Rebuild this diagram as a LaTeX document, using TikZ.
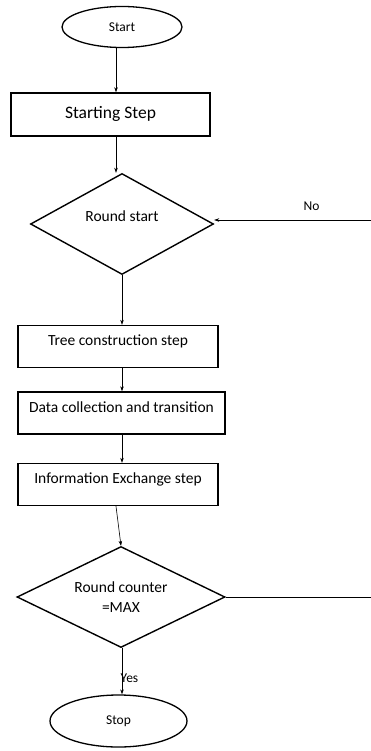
\documentclass[tikz,border=0pt]{standalone}
\usepackage{fontspec}
\setmainfont{Carlito}
\usetikzlibrary{arrows.meta}
\usetikzlibrary{shapes.geometric}

\begin{document}
\begin{tikzpicture}[x=1pt,y=-1pt,
  every node/.style={font=\fontsize{15.5}{20}\selectfont},
  term/.style={draw,ellipse,line width=1.3pt,inner sep=0pt,font=\fontsize{13.5}{16}\selectfont},
  stepbox/.style={draw,rectangle,line width=1.4pt,inner xsep=0pt,inner ysep=7pt,
    text height=13pt,text depth=15pt},
  test/.style={draw,diamond,aspect=2,line width=1.4pt,inner sep=0pt,align=center},
  arr/.style={-{Stealth[length=5pt,width=3.5pt]},line width=0.6pt}]
\useasboundingbox (0,0) rectangle (371,751);
% nodes
\node [term,minimum width=120pt,minimum height=41pt] (start) at (122,27) {Start};
\node [stepbox,minimum width=199pt,minimum height=43pt,text depth=5pt,font=\fontsize{17.5}{20}\selectfont] (init) at (110.5,114.5) {Starting Step};
\node [test,minimum width=183pt,minimum height=101pt] (rs) at (122,224) {Round start\\[-5pt]};
\node [stepbox,minimum width=200pt] (tree) at (118,346.5) {Tree construction step};
\node [stepbox,minimum width=207pt] (data) at (121.5,413) {Data collection and transition};
\node [stepbox,minimum width=200pt] (info) at (118,484.5) {Information Exchange step};
\node [test,minimum width=208pt,minimum height=101pt] (rc) at (121,597) {Round counter\\=MAX};
\node [term,minimum width=137pt,minimum height=52pt] (stop) at (118.5,721) {Stop};
\coordinate (noin) at (371,220);
\coordinate (noout) at (371,597);
% connectors
\draw [arr] ([xshift=-6pt]start.south) -- ([xshift=5.5pt]init.north);
\draw [arr] ([xshift=5.5pt]init.south) -- ([xshift=-6pt]rs.north);
\draw [arr] (rs.south) -- ([xshift=4pt]tree.north);
\draw [arr] ([xshift=4pt]tree.south) -- ([xshift=0.5pt]data.north);
\draw [arr] ([xshift=0.5pt]data.south) -- ([xshift=4pt]info.north);
\draw [arr] ([xshift=-2pt]info.south) -- (rc.north);
\draw [arr] ([xshift=1pt]rc.south) -- node [pos=0.65,right,xshift=-5pt,font=\fontsize{13.5}{16}\selectfont] {Yes} ([xshift=3.5pt]stop.north);
\draw [arr] (noin) -- node [above=6pt,xshift=19pt,font=\fontsize{13.5}{16}\selectfont] {No} ([yshift=4pt]rs.east);
\draw [line width=0.6pt] (rc.east) -- (noout);
\end{tikzpicture}
\end{document}
